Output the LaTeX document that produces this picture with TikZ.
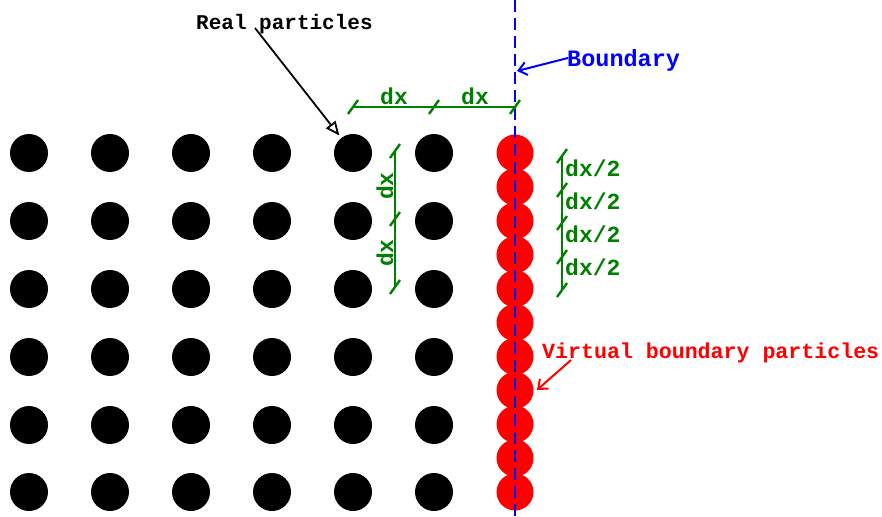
\documentclass[tikz,border=0pt]{standalone}
\usepackage{fontspec}
\setmonofont{Liberation Mono}
\usetikzlibrary{arrows.meta}
\definecolor{dimgreen}{RGB}{0,128,0}
\begin{document}
\begin{tikzpicture}[x=1pt,y=-1pt,
  realdot/.style={circle,fill=black,minimum size=38pt,inner sep=0pt},
  virtdot/.style={circle,fill=red,minimum size=37pt,inner sep=0pt},
  lbl/.style={font=\ttfamily\bfseries\fontsize{21}{21}\selectfont,inner sep=0pt},
  dimline/.style={draw=dimgreen,line width=2.4pt},
  dimlbl/.style={font=\ttfamily\bfseries\fontsize{23}{23}\selectfont,inner sep=0pt,text=dimgreen},
  bndline/.style={draw=blue,line width=2.8pt,dash pattern=on 12pt off 6pt}
]
\useasboundingbox (0,0) rectangle (882,516);

% real particles
\foreach \xx [count=\c] in {29,110,191,272,353,434}
  \foreach \yy [count=\r] in {153,221,289,357,425,492}
    \node[realdot] (r\c-\r) at (\xx,\yy) {};

% virtual boundary particles
\foreach \k in {0,...,10}
  \node[virtdot] (v\k) at (515,{153+33.9*\k}) {};

% boundary line
\coordinate (btop) at (515,0);
\coordinate (bbot) at (515,516);
\draw[bndline] (btop) -- (bbot);

% horizontal dx dimension
\coordinate (h0) at (353,107);
\coordinate (h1) at (434,107);
\coordinate (h2) at (515,107);
\draw[dimline] (h0) -- (h2);
\foreach \p in {h0,h1,h2}
  \draw[dimline] ([shift={(-5,7)}]\p) -- ([shift={(5,-7)}]\p);
\node[dimlbl] (dxa) at (394,96) {dx};
\node[dimlbl] (dxb) at (475,96) {dx};

% vertical dx dimension
\coordinate (u0) at (395,151);
\coordinate (u1) at (395,219);
\coordinate (u2) at (395,287);
\draw[dimline] (u0) -- (u2);
\foreach \p in {u0,u1,u2}
  \draw[dimline] ([shift={(-5,7)}]\p) -- ([shift={(5,-7)}]\p);
\node[dimlbl,rotate=90] (dxc) at (385,186) {dx};
\node[dimlbl,rotate=90] (dxd) at (385,253) {dx};

% dx/2 dimension
\coordinate (w0) at (562,156);
\coordinate (w1) at (562,190);
\coordinate (w2) at (562,223);
\coordinate (w3) at (562,257);
\coordinate (w4) at (562,290);
\draw[dimline] (w0) -- (w4);
\foreach \p in {w0,w1,w2,w3,w4}
  \draw[dimline] ([shift={(-5,7)}]\p) -- ([shift={(5,-7)}]\p);
\node[dimlbl,anchor=west] (hd1) at (565,168) {dx/2};
\node[dimlbl,anchor=west] (hd2) at (565,201) {dx/2};
\node[dimlbl,anchor=west] (hd3) at (565,234) {dx/2};
\node[dimlbl,anchor=west] (hd4) at (565,267) {dx/2};

% labels
\node[lbl,anchor=base west] (real) at (196,30) {Real particles};
\node[lbl,text=blue,anchor=base west,font=\ttfamily\bfseries\fontsize{23.5}{23.5}\selectfont] (bnd) at (567,67) {Boundary};
\node[lbl,text=red,anchor=base west,font=\ttfamily\bfseries\fontsize{21.6}{21.6}\selectfont] (virt) at (542,358) {Virtual boundary particles};

% arrows
\coordinate (ra) at (255,28);
\draw[line width=1.8pt,-{Triangle[open,length=14pt,width=12pt]},shorten >=3pt] (ra) -- (r5-1);
\coordinate (bs) at (568,58);
\coordinate (be) at (517,71);
\draw[blue,line width=2pt,-{Straight Barb[length=8pt,width=13pt]}] (bs) -- (be);
\coordinate (vs) at (571,360);
\coordinate (ve) at (537,390);
\draw[red,line width=2pt,-{Straight Barb[length=8pt,width=13pt]}] (vs) -- (ve);
\end{tikzpicture}
\end{document}
